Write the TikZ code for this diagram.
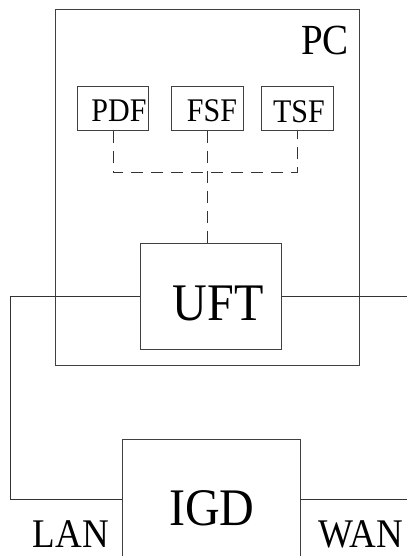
\documentclass[tikz,border=0pt]{standalone}
\usepackage{fontspec}
\setmainfont{Liberation Serif}
\usetikzlibrary{positioning}

% letters a little taller than wide
\newcommand\tallt[1]{\scalebox{1}[1.1]{#1}}

\tikzset{
  box/.style={draw=black!75,line width=0.8pt,inner sep=0pt,anchor=north west},
  txt/.style={inner sep=0pt,anchor=base},
  link/.style={draw=black!80,line width=0.8pt},
  ctl/.style={draw=black!80,line width=0.8pt,dash pattern=on 12pt off 8pt},
}

\begin{document}
\begin{tikzpicture}[x=1pt,y=-1pt]
\useasboundingbox (0,0) rectangle (407,556);
\clip (0,0) rectangle (407,556);
\coordinate (edge) at (407,0);
% PC with its functions
\node [box,minimum width=304pt,minimum height=356pt] (pc) at (55,9) {};
\node [txt,anchor=base east,font=\fontsize{39}{39}\selectfont] (pclbl) at (349,55) {\tallt{PC}};
\node [box,minimum width=71pt,minimum height=44pt] (pdf) at (77,86) {};
\node [box,minimum width=72pt,minimum height=44pt] (fsf) at (171,86) {};
\node [box,minimum width=72pt,minimum height=44pt] (tsf) at (261,86) {};
\node [txt,font=\fontsize{30}{30}\selectfont] at (119,122) {\tallt{PDF}};
\node [txt,font=\fontsize{30}{30}\selectfont] at (212,122) {\tallt{FSF}};
\node [txt,font=\fontsize{30}{30}\selectfont] at (299,123) {\tallt{TSF}};
\node [box,minimum width=141pt,minimum height=106pt] (uft) at (140,243) {};
\node [txt,font=\fontsize{48}{48}\selectfont] at (218,320) {\tallt{UFT}};
% gateway
\node [box,minimum width=178pt,minimum height=120pt] (igd) at (122,439) {};
\node [txt,font=\fontsize{48}{48}\selectfont] at (212,525) {\tallt{IGD}};
\node [txt,font=\fontsize{37}{37}\selectfont] (lan) at (71,547) {\tallt{LAN}};
\node [txt,font=\fontsize{37}{37}\selectfont] (wan) at (361,547) {\tallt{WAN}};
% control links
\draw [ctl] (pdf.south) -- ++(0,42) -| (tsf.south);
\draw [ctl] (fsf.south) -- (fsf.south |- uft.north);
% data path
\draw [link] (uft.west) -- ++(-130,0) |- (igd.west);
\draw [link] (uft.east) -- (uft.east -| edge);
\draw [link] (igd.east) -- (igd.east -| edge);
\end{tikzpicture}
\end{document}
